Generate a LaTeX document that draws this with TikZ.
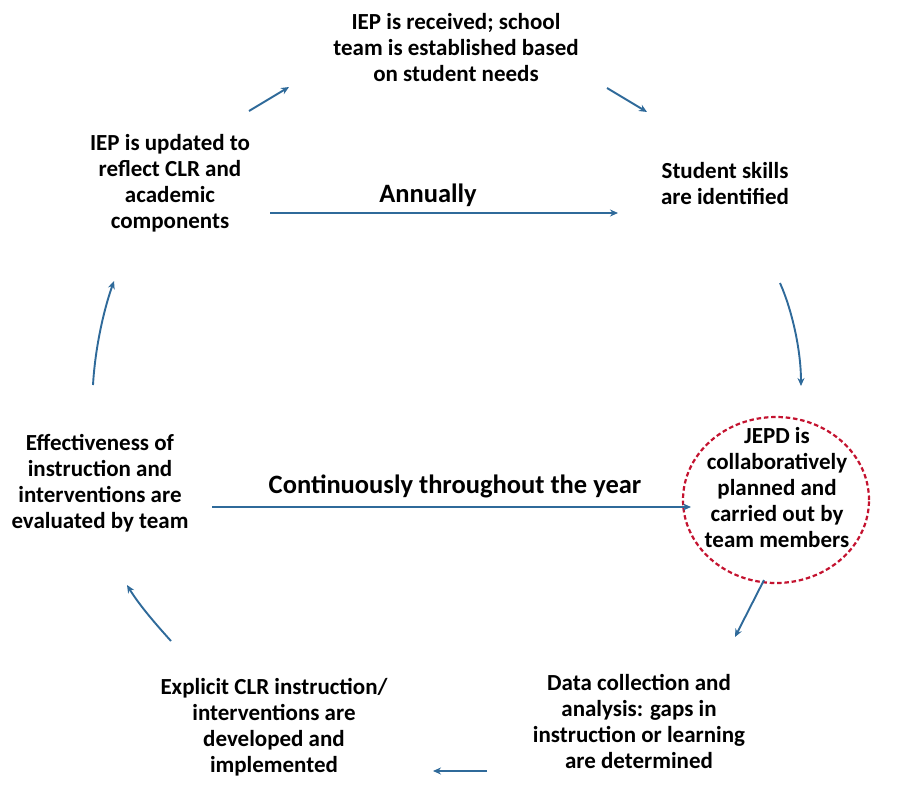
\documentclass[tikz,border=0pt]{standalone}
\usepackage{fontspec}
\setmainfont{Carlito}
\usetikzlibrary{arrows.meta,shapes.geometric}
\definecolor{flow}{HTML}{2F6A9A}
\definecolor{ring}{HTML}{C4122F}
\begin{document}
\begin{tikzpicture}[x=1pt,y=-1pt,
  stage/.style={align=center,font=\bfseries\fontsize{23}{26}\selectfont,inner sep=0pt},
  period/.style={font=\bfseries\fontsize{26.5}{30}\selectfont,inner sep=0pt},
  link/.style={draw=flow,line width=1.9pt,-{Stealth[length=8pt,width=7pt]}}]
\useasboundingbox (0,0) rectangle (898,788);
\fill[white] (0,0) rectangle (898,788);

% cycle stages
\node[stage] (recv) at (456,48) {IEP is received; school\\team is established based\\on student needs};
\node[stage] (skills) at (725,184) {Student skills\\are identified};
\node[stage] (upd) at (170,183) {IEP is updated to\\reflect CLR and\\academic\\components};
\node[stage] (eval) at (100,483) {Effectiveness of\\instruction and\\interventions are\\evaluated by team};
\node[stage] (jepd) at (777,488) {JEPD is\\collaboratively\\planned and\\carried out by\\team members};
\node[stage] (data) at (639,721) {Data collection and\\analysis: gaps in\\instruction or learning\\are determined};
\node[stage] (expl) at (274,727) {Explicit CLR instruction/\\interventions are\\developed and\\implemented};

% highlighted stage
\node[draw=ring,line width=2.2pt,dash pattern=on 4.5pt off 2.8pt,ellipse,minimum width=186pt,minimum height=166pt] (hl) at (776,500) {};

% timing labels
\node[period] (ann) at (428,195) {Annually};
\node[period] (cont) at (455,486) {Continuously throughout the year};

% connectors between stages
\coordinate (a1s) at (249,111); \coordinate (a1e) at (289,87);
\coordinate (a2s) at (607,88);  \coordinate (a2e) at (647,112);
\coordinate (a3s) at (780,283); \coordinate (a3e) at (801,386);
\coordinate (a4s) at (764,580); \coordinate (a4e) at (735,637);
\coordinate (a5s) at (487,771); \coordinate (a5e) at (433,771);
\coordinate (a6s) at (171,641); \coordinate (a6e) at (127,585);
\coordinate (a7s) at (93,385);  \coordinate (a7e) at (114,281);
\coordinate (h1s) at (270,213); \coordinate (h1e) at (618,213);
\coordinate (h2s) at (212,507); \coordinate (h2e) at (691,507);

\draw[link] (a1s) -- (a1e);
\draw[link] (a2s) -- (a2e);
\draw[link] (a3s) .. controls (792,310) and (801,350) .. (a3e);
\draw[link] (a4s) -- (a4e);
\draw[link] (a5s) -- (a5e);
\draw[link] (a6s) .. controls (152,620) and (138,603) .. (a6e);
\draw[link] (a7s) .. controls (95,350) and (103,312) .. (a7e);
\draw[link] (h1s) -- (h1e);
\draw[link] (h2s) -- (h2e);
\end{tikzpicture}
\end{document}
